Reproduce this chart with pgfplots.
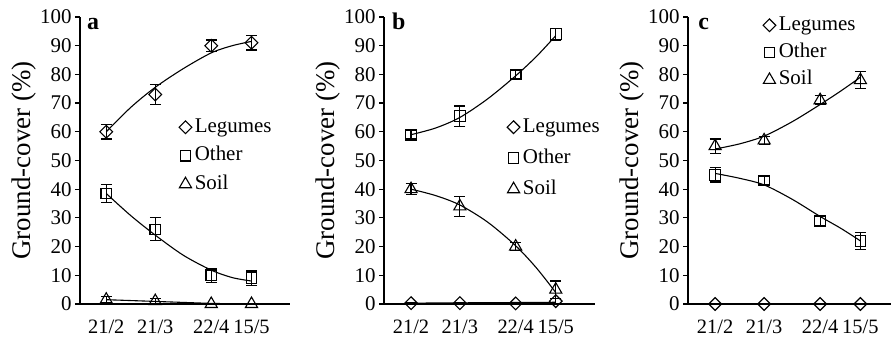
\documentclass[border=0pt]{standalone}
\usepackage{fontspec}
\setmainfont{Liberation Serif}
\usepackage{pgfplots}
\pgfplotsset{compat=1.18}
\pgfplotsset{
 panel/.style={
   scale only axis, height=287bp,
   ymin=0, ymax=100, ytick={0,10,...,100},
   axis lines=left, axis line style={-, line width=1.6bp},
   xtick={52,80,112,135}, xticklabels={21/2,21/3,22/4,15/5},
   x tick style={draw=none},
   y tick style={line width=1.2bp, black},
   tick align=outside, major tick length=5bp,
   /pgf/number format/assume math mode=true,
   yticklabel style={font=\fontsize{21}{21}\selectfont},
   xticklabel style={font=\fontsize{20.5}{20.5}\selectfont, yshift=-7bp},
   ylabel={Ground-cover (\%)},
   ylabel style={font=\fontsize{27}{27}\selectfont, anchor=center},
   legend style={draw=none, fill=none, font=\fontsize{21}{24}\selectfont, inner sep=0pt, anchor=north west, nodes={inner ysep=1bp, inner xsep=3bp, text height=15bp, text depth=5bp}},
   legend cell align=left,
   clip=false,
 },
 dat/.style={black, only marks, line width=1.1bp,
   legend image code/.code={\draw[mark repeat=2,mark phase=2,##1] plot coordinates {(0bp,0bp)(6bp,0bp)(12bp,0bp)};},
   error bars/y dir=both, error bars/y explicit,
   error bars/error bar style={line width=1.1bp, black},
   error bars/error mark options={rotate=90, mark size=5.5bp, line width=1.1bp, black}},
 fit/.style={black, line width=1.1bp, smooth, no marks, forget plot},
 leg/.style={mark=square, mark options={rotate=45}, mark size=4.5bp},
 oth/.style={mark=square, mark size=5.3bp},
 soi/.style={mark=triangle, mark size=7bp},
}
\begin{document}
\begin{tikzpicture}
\useasboundingbox (0,0) rectangle (892bp,340bp);
% ---------- a
\begin{axis}[panel, at={(80bp,36bp)}, width=210bp, xmin=37, xmax=157,
  ylabel style={at={(axis description cs:-0.267,0.5)}},
  legend style={at={(rel axis cs:0.471,0.655)}, row sep=6.5bp}]
\addplot[fit] coordinates {(52,60)(66,68.5)(80,75.5)(96,82)(112,87.5)(124,90)(135,91.5)};
\addplot[fit] coordinates {(52,38.5)(66,30.8)(80,24)(96,17)(112,11.8)(124,9.2)(135,8)};
\addplot[fit, sharp plot] coordinates {(52,1.5)(80,0.9)(112,0.2)(135,0)};
\addplot[dat, leg] table[row sep=\\, y error index=2] {x y e\\ 52 60 2.5\\ 80 73 3.5\\ 112 90 2\\ 135 91 2.5\\};
\addplot[dat, oth] table[row sep=\\, y error index=2] {x y e\\ 52 38.5 3\\ 80 26 4\\ 112 10 2.5\\ 135 9 2.5\\};
\addplot[dat, soi] table[row sep=\\, y error index=2] {x y e\\ 52 1.5 1\\ 80 1 0.8\\ 112 0 0\\ 135 0 0\\};
\legend{Legumes, Other, Soil}
\node[anchor=base west, inner sep=0pt, font=\bfseries\fontsize{24}{24}\selectfont] at (rel axis cs:0.033,0.958) {a};
\end{axis}
% ---------- b
\begin{axis}[panel, at={(384bp,36bp)}, width=211bp, xmin=36.5, xmax=157.5,
  ylabel style={at={(axis description cs:-0.265,0.5)}},
  legend style={at={(rel axis cs:0.583,0.655)}, row sep=9bp}]
\addplot[fit, sharp plot] coordinates {(52,0.3)(135,0.6)};
\addplot[fit] coordinates {(52,59)(66,61.3)(80,65)(96,71.5)(112,79.5)(124,86.3)(135,93.5)};
\addplot[fit] coordinates {(52,40)(66,37.8)(80,34.5)(96,28.5)(112,20.3)(124,12.5)(135,4)};
\addplot[dat, leg] table[row sep=\\, y error index=2] {x y e\\ 52 0.3 0.3\\ 80 0.3 0.3\\ 112 0.2 0.2\\ 135 1 1\\};
\addplot[dat, oth] table[row sep=\\, y error index=2] {x y e\\ 52 59 1.5\\ 80 65.5 3.5\\ 112 80 1.5\\ 135 94 2\\};
\addplot[dat, soi] table[row sep=\\, y error index=2] {x y e\\ 52 40 2\\ 80 34 3.5\\ 112 20 1.5\\ 135 5 3\\};
\legend{Legumes, Other, Soil}
\node[anchor=base west, inner sep=0pt, font=\bfseries\fontsize{24}{24}\selectfont] at (rel axis cs:0.038,0.958) {b};
\end{axis}
% ---------- c
\begin{axis}[panel, at={(688bp,36bp)}, width=203bp, xmin=36.5, xmax=152.5,
  ylabel style={at={(axis description cs:-0.276,0.5)}},
  legend style={at={(rel axis cs:0.369,1.010)}, row sep=5.3bp}]
\addplot[fit] coordinates {(52,45.5)(66,43.8)(80,41.5)(96,36.5)(112,30.5)(124,26.3)(135,22)};
\addplot[fit] coordinates {(52,54)(66,55.8)(80,58.5)(96,63.5)(112,69.5)(124,74.3)(135,79)};
\addplot[dat, leg] table[row sep=\\, y error index=2] {x y e\\ 52 0 0\\ 80 0 0\\ 112 0 0\\ 135 0 0\\};
\addplot[dat, oth] table[row sep=\\, y error index=2] {x y e\\ 52 45 2.5\\ 80 43 1.5\\ 112 29 1.5\\ 135 22 3\\};
\addplot[dat, soi] table[row sep=\\, y error index=2] {x y e\\ 52 55 2.5\\ 80 57 1.5\\ 112 71 1.5\\ 135 78 3\\};
\legend{Legumes, Other, Soil}
\node[anchor=base west, inner sep=0pt, font=\bfseries\fontsize{24}{24}\selectfont] at (rel axis cs:0.05,0.958) {c};
\end{axis}
\end{tikzpicture}
\end{document}
